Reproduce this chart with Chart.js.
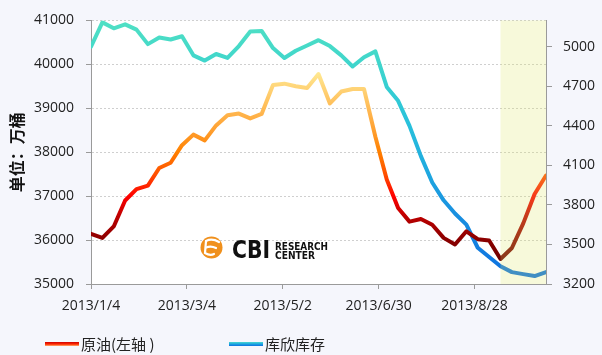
<!DOCTYPE html>
<html><head><meta charset="utf-8">
<script src="https://cdn.jsdelivr.net/npm/chart.js@4/dist/chart.umd.min.js"></script>
<style>
html,body{margin:0;padding:0;background:#f5f6fc;}
#wrap{position:relative;width:602px;height:355px;overflow:hidden;}
#c{position:absolute;left:0;top:0;}
.sw{position:absolute;width:34px;height:4px;top:342px;}
.lt{position:absolute;top:334px;height:20px;line-height:20px;font-size:15px;font-family:'Noto Sans CJK SC','Open Sans',sans-serif;color:#222;white-space:nowrap;}
</style></head>
<body>
<div id="wrap">
<canvas id="c" width="602" height="355"></canvas>
<div class="sw" style="left:45px;background:linear-gradient(#d00000,#ff2a00 55%,#ffb070);"></div>
<div class="lt" style="left:81px;">原油(左轴 )</div>
<div class="sw" style="left:229px;background:linear-gradient(#48d8d0,#1aa0e0 55%,#1070e0);"></div>
<div class="lt" style="left:265px;">库欣库存</div>
</div>
<script>
// ---- data ----
const dates = ['2013/1/4','2013/1/11','2013/1/18','2013/1/25','2013/2/1','2013/2/8','2013/2/15','2013/2/22',
 '2013/3/1','2013/3/8','2013/3/15','2013/3/22','2013/3/29','2013/4/5','2013/4/12','2013/4/19','2013/4/26',
 '2013/5/3','2013/5/10','2013/5/17','2013/5/24','2013/5/31','2013/6/7','2013/6/14','2013/6/21','2013/6/28',
 '2013/7/5','2013/7/12','2013/7/19','2013/7/26','2013/8/2','2013/8/9','2013/8/16','2013/8/23','2013/8/30',
 '2013/9/6','2013/9/13','2013/9/20','2013/9/27','2013/10/4','2013/10/11'];
const crudeOil = [36140,36050,36310,36900,37160,37240,37640,37760,38160,38400,38270,38610,38840,38880,38770,38870,
 39530,39560,39500,39460,39780,39110,39380,39440,39440,38350,37380,36730,36420,36480,36350,36050,35900,36200,
 36020,35990,35570,35820,36380,37050,37470];
const cushing = [5000,5185,5140,5170,5130,5020,5070,5055,5080,4935,4895,4945,4915,5005,5115,5120,4990,4915,4970,
 5010,5050,5005,4935,4850,4920,4965,4695,4590,4400,4170,3970,3835,3735,3650,3475,3405,3335,3290,3275,3260,3290];
const xTickLabels = ['2013/1/4','2013/3/4','2013/5/2','2013/6/30','2013/8/28'];
const leftTicks = [35000,36000,37000,38000,39000,40000,41000];
const rightTicks = [3200,3500,3800,4100,4400,4700,5000];
const seriesNames = ['原油(左轴 )','库欣库存'];
const axisTitle = '单位：万桶';
const highlightStart = '2013/9/13';

// ---- helpers ----
function dayOf(s){const [y,m,d]=s.split('/').map(Number);const [y0,m0,d0]=dates[0].split('/').map(Number);
 return Math.round((Date.UTC(y,m-1,d)-Date.UTC(y0,m0-1,d0))/864e5);}
const oilStops=[[35500,'#6a0000'],[36000,'#8a0000'],[36500,'#b80000'],[37000,'#ff0000'],[37500,'#ff5000'],
 [38000,'#ff8000'],[38500,'#ffa030'],[39000,'#ffbb55'],[39500,'#ffd67a'],[39800,'#ffe890']];
const cushStops=[[3250,'#0b6fe0'],[3500,'#1480e0'],[3800,'#1a95e0'],[4100,'#20acdf'],[4400,'#28c0dc'],
 [4700,'#36cfd2'],[5000,'#46dac8'],[5200,'#50e0c4']];
function grad(c,axisId,stops){const chart=c.chart;if(!chart.chartArea)return stops[0][1];
 const s=chart.scales[axisId];const y0=s.getPixelForValue(s.min),y1=s.getPixelForValue(s.max);
 const g=chart.ctx.createLinearGradient(0,y0,0,y1);
 stops.forEach(([v,col])=>{g.addColorStop(Math.min(1,Math.max(0,(v-s.min)/(s.max-s.min))),col);});return g;}

const font={family:"'Open Sans','Noto Sans CJK SC',sans-serif",size:14};
const txt='#222';
const axisCol='#9a9a9a';

const bgPlugin={id:'bg',beforeDraw(ch){const a=ch.chartArea,x=ch.ctx;x.save();x.fillStyle='#ffffff';
 x.fillRect(a.left,a.top,a.right-a.left,a.bottom-a.top);x.restore();}};
const logoPlugin={id:'logo',beforeDatasetsDraw(ch){const x=ch.ctx;x.save();
 x.fillStyle='#f0901c';x.beginPath();x.arc(211.5,247.5,11,0,Math.PI*2);x.fill();
 x.strokeStyle='#ffffff';x.lineWidth=2.2;x.lineCap='round';
 x.beginPath();x.moveTo(206,241);x.quadraticCurveTo(212,238,219,242);x.stroke();
 x.beginPath();x.moveTo(206,247.5);x.quadraticCurveTo(211,245.5,216,248);x.stroke();
 x.beginPath();x.moveTo(206,241);x.lineTo(205,253);x.quadraticCurveTo(210,256,214,254);x.stroke();
 x.fillStyle='#111';x.textBaseline='alphabetic';
 x.font="bold 25px 'DejaVu Sans','Open Sans',sans-serif";x.fillText('CBI',232,258,38);
 x.font="bold 11px 'DejaVu Sans','Open Sans',sans-serif";x.fillText('RESEARCH',275,249.5,53);x.fillText('CENTER',275,258.5,40);
 x.restore();}};
const shadePlugin={id:'shade',afterDatasetsDraw(ch){const a=ch.chartArea,x=ch.ctx;
 const x0=ch.scales.x.getPixelForValue(dayOf(highlightStart));x.save();x.fillStyle='rgba(223,231,107,0.25)';
 x.fillRect(x0,a.top,a.right-x0,a.bottom-a.top);x.restore();}};

new Chart(document.getElementById('c'),{
 type:'line',
 data:{datasets:[
  {label:seriesNames[0],data:dates.map((d,i)=>({x:dayOf(d),y:crudeOil[i]})),yAxisID:'y',
   borderColor:c=>grad(c,'y',oilStops),borderWidth:4,pointRadius:0,tension:0,borderJoinStyle:'round',borderCapStyle:'round'},
  {label:seriesNames[1],data:dates.map((d,i)=>({x:dayOf(d),y:cushing[i]})),yAxisID:'y1',
   borderColor:c=>grad(c,'y1',cushStops),borderWidth:4,pointRadius:0,tension:0,borderJoinStyle:'round',borderCapStyle:'round'}
 ]},
 options:{responsive:false,animation:false,devicePixelRatio:1,
  layout:{padding:{top:14,left:0,right:0,bottom:0}},
  plugins:{legend:{display:false},tooltip:{enabled:false}},
  scales:{
   x:{type:'linear',min:0,max:dayOf(dates[dates.length-1]),
    afterBuildTicks:s=>{s.ticks=xTickLabels.map(t=>({value:dayOf(t)}));},
    ticks:{font,color:txt,padding:9,maxRotation:0,autoSkip:false,
     callback:v=>{const t=xTickLabels.find(l=>dayOf(l)===v);return t||'';}},
    grid:{drawOnChartArea:false,tickLength:5,tickColor:axisCol,tickBorderDash:[]},
    border:{color:axisCol,width:1},afterFit:s=>{s.height=71;}},
   y:{position:'left',min:leftTicks[0],max:leftTicks[leftTicks.length-1],
    afterBuildTicks:s=>{s.ticks=leftTicks.map(v=>({value:v}));},
    ticks:{font,color:txt,padding:12,callback:v=>String(v)},
    grid:{color:'#cfcfcf',lineWidth:1,tickLength:5,tickColor:axisCol,tickBorderDash:[]},
    border:{color:axisCol,width:1,dash:[2,2]},
    title:{display:true,text:axisTitle,font:{family:"'Noto Sans CJK SC',sans-serif",size:16,weight:'bold'},color:'#111',padding:{top:7,bottom:0}},
    afterFit:s=>{s.width=91;}},
   y1:{position:'right',min:3200,max:5200,
    afterBuildTicks:s=>{s.ticks=rightTicks.map(v=>({value:v}));},
    ticks:{font,color:txt,padding:11,callback:v=>String(v)},
    grid:{drawOnChartArea:false,tickLength:6,tickColor:axisCol,tickBorderDash:[]},
    border:{color:axisCol,width:1},afterFit:s=>{s.width=56;}}
  }},
 plugins:[bgPlugin,logoPlugin,shadePlugin]
});
</script>
</body></html>
